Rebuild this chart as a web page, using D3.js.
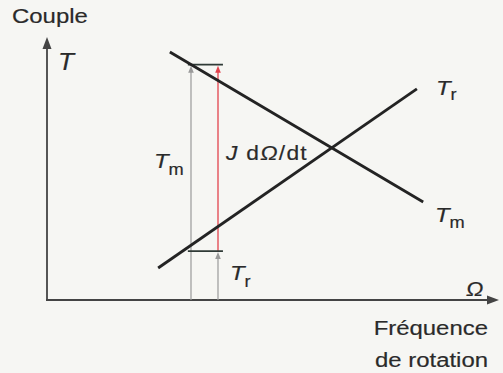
<!DOCTYPE html>
<html>
<head>
<meta charset="utf-8">
<script src="https://cdn.jsdelivr.net/npm/d3@7"></script>
<style>
  html, body { margin: 0; padding: 0; background: #f6f6f3; }
  svg { display: block; }
  text { font-family: "Liberation Sans", Arial, sans-serif; fill: #2a2a2a; stroke: #2a2a2a; stroke-width: 0.18px; }
</style>
</head>
<body>
<svg id="chart" width="503" height="373"></svg>
<script>
// Torque–speed diagram: motor torque Tm falls with speed, load torque Tr rises.
const omegaDomain = [0, 10];
const torqueDomain = [0, 10];

// Straight torque characteristics, given as [Ω, T] end points
const motorTorque = [[2.73, 9.54], [8.36, 3.77]];   // Tm
const loadTorque  = [[2.47, 1.23], [8.22, 8.12]];   // Tr

// Operating speeds used to show the torques and the accelerating torque
const omegaTm = [3.2];           // where Tm is read
const omegaAcc = [3.8];          // where J dΩ/dt and Tr are read
const capSpan = [3.13, 3.91];    // horizontal extent of the level marks
const tmLevel = [9.05];          // Tm at the operating point
const trLevel = [1.88];          // Tr at the operating point

const svg = d3.select("#chart");
const x = d3.scaleLinear().domain(omegaDomain).range([47, 497]);
const y = d3.scaleLinear().domain(torqueDomain).range([300, 40]);

const line = d3.line().x(d => x(d[0])).y(d => y(d[1]));

// Filled arrow head pointing in direction (dx, dy)
function head(tipX, tipY, dx, dy, len, half, color) {
  const nx = -dy, ny = dx;
  const bx = tipX - dx * len, by = tipY - dy * len;
  svg.append("path")
    .attr("d", `M${tipX},${tipY}L${bx + nx * half},${by + ny * half}L${bx - nx * half},${by - ny * half}Z`)
    .attr("fill", color);
}

// Axes
const axisColor = "#444444";
svg.append("line").attr("x1", x(0)).attr("y1", y(0)).attr("x2", x(0)).attr("y2", y(torqueDomain[1]) + 8)
  .attr("stroke", axisColor).attr("stroke-width", 1.8);
head(x(0), y(torqueDomain[1]) - 3, 0, -1, 12, 4.5, axisColor);
svg.append("line").attr("x1", x(0) - 1).attr("y1", y(0)).attr("x2", x(omegaDomain[1]) - 6).attr("y2", y(0))
  .attr("stroke", axisColor).attr("stroke-width", 1.8);
head(x(omegaDomain[1]) + 2, y(0), 1, 0, 12, 4.5, axisColor);

// Vertical measurement arrows
const grey = "#9a9a9a", red = "#e2424c";
svg.append("line").attr("x1", x(omegaTm[0])).attr("x2", x(omegaTm[0]))
  .attr("y1", y(0)).attr("y2", y(tmLevel[0]) + 6)
  .attr("stroke", grey).attr("stroke-width", 1.2);
head(x(omegaTm[0]), y(tmLevel[0]) + 1, 0, -1, 7, 2.8, grey);

svg.append("line").attr("x1", x(omegaAcc[0])).attr("x2", x(omegaAcc[0]))
  .attr("y1", y(0)).attr("y2", y(trLevel[0]) + 6)
  .attr("stroke", grey).attr("stroke-width", 1.2);
head(x(omegaAcc[0]), y(trLevel[0]) + 1, 0, -1, 7, 2.8, grey);

svg.append("line").attr("x1", x(omegaAcc[0])).attr("x2", x(omegaAcc[0]))
  .attr("y1", y(trLevel[0])).attr("y2", y(tmLevel[0]) + 6)
  .attr("stroke", red).attr("stroke-width", 1.3);
head(x(omegaAcc[0]), y(tmLevel[0]) + 1, 0, -1, 7, 2.8, red);

// Level marks for Tm and Tr
[tmLevel[0], trLevel[0]].forEach(v => {
  svg.append("line").attr("x1", x(capSpan[0])).attr("x2", x(capSpan[1]))
    .attr("y1", y(v)).attr("y2", y(v))
    .attr("stroke", "#2f3a36").attr("stroke-width", 1.8);
});

// Torque characteristics
[motorTorque, loadTorque].forEach(d => {
  svg.append("path").attr("d", line(d))
    .attr("fill", "none").attr("stroke", "#232323").attr("stroke-width", 2.8);
});

// Labels (sans serif, slightly wide)
const sx = 1.14;
function label(px, py, size, anchor) {
  return svg.append("text")
    .attr("transform", `translate(${px},${py}) scale(${sx},1)`)
    .attr("font-size", size)
    .attr("text-anchor", anchor || "start");
}
function symbol(px, py, main, sub, size, subSize, subDx, subDy) {
  const t = label(px, py, size);
  t.append("tspan").attr("font-style", "italic").text(main);
  if (sub) t.append("tspan").attr("dx", subDx).attr("dy", subDy).attr("font-size", subSize).text(sub);
}

label(12, 23, 21).text("Couple");
symbol(58, 70, "T", null, 23);
symbol(436, 95, "T", "r", 21, 16, 0, 5);
symbol(435, 222, "T", "m", 21, 16, 0, 6);
symbol(154, 168, "T", "m", 21, 16, 0, 7);
symbol(230, 280, "T", "r", 21, 16, 0, 7);

const acc = label(226, 160, 20).attr("letter-spacing", 1.1);
acc.append("tspan").attr("font-style", "italic").text("J");
acc.append("tspan").text(" d");
acc.append("tspan").attr("font-style", "italic").text("Ω");
acc.append("tspan").text("/dt");

label(466, 296, 20).attr("font-style", "italic").text("Ω");
label(488, 335, 21, "end").text("Fréquence");
label(488, 367, 21, "end").text("de rotation");
</script>
</body>
</html>
